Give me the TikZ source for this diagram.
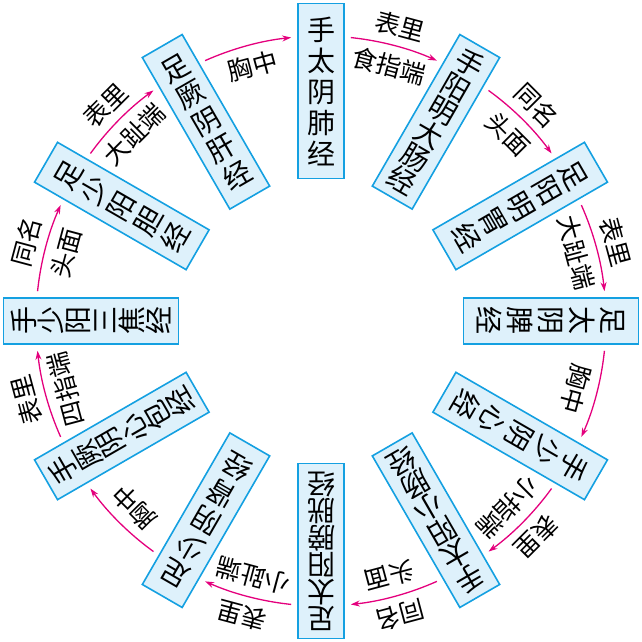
\documentclass[tikz,border=0pt]{standalone}
\usepackage{fontspec}
\setmainfont{Noto Sans CJK SC}
\usetikzlibrary{arrows.meta}
\definecolor{bfill}{RGB}{222,241,251}
\definecolor{bdraw}{RGB}{20,160,225}
\definecolor{arr}{RGB}{228,0,125}
\tikzset{
  mbox/.style={draw=bdraw,line width=1.6pt,fill=bfill,minimum width=46pt,minimum height=175pt,inner sep=0pt,align=center},
  lab/.style={inner sep=0pt,font=\fontsize{25}{25}\selectfont},
  marr/.style={draw=arr,line width=1.3pt,-{Stealth[length=9pt,width=6pt]}}
}
\begin{document}
\begin{tikzpicture}[x=1pt,y=1pt]
\useasboundingbox (-321,-321) rectangle (321,321);
\foreach \a/\t/\s [count=\i] in {
 90/{手\\太\\阴\\肺\\经}/31,
 60/{手\\阳\\明\\大\\肠\\经}/27,
 30/{足\\阳\\明\\胃\\经}/31,
 0/{足\\太\\阴\\脾\\经}/31,
 -30/{手\\少\\阴\\心\\经}/31,
 -60/{手\\太\\阳\\小\\肠\\经}/27,
 -90/{足\\太\\阳\\膀\\胱\\经}/27,
 -120/{足\\少\\阴\\肾\\经}/31,
 -150/{手\\厥\\阴\\心\\包\\经}/27,
 180/{手\\少\\阳\\三\\焦\\经}/27,
 150/{足\\少\\阳\\胆\\经}/31,
 120/{足\\厥\\阴\\肝\\经}/31}{
  \node[mbox,rotate=\a-90,font=\fontsize{28}{\s}\selectfont] (b\i) at (\a:230) {\t};
}
\foreach \a/\o/\n [count=\i] in {
 90/表里/食指端, 60/同名/头面, 30/表里/大趾端, 0//胸中,
 -30/表里/小指端, -60/同名/头面, -90/表里/小趾端, -120//胸中,
 -150/表里/四指端, 180/同名/头面, 150/表里/大趾端, 120//胸中}{
  \coordinate (s\i) at (\a-6:285);
  \coordinate (e\i) at (\a-24:285);
  \draw[marr] (s\i) arc[start angle=\a-6,end angle=\a-24,radius=285];
  \node[lab,rotate=\a-105] (o\i) at (\a-15:305) {\o};
  \node[lab,rotate=\a-105] (n\i) at (\a-15:264) {\n};
}
\end{tikzpicture}
\end{document}
